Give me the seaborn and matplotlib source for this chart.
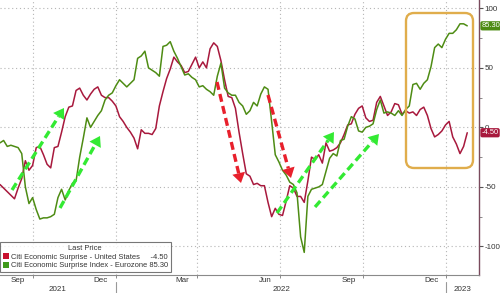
import numpy as np
import pandas as pd
import matplotlib
matplotlib.use("Agg")
import matplotlib.pyplot as plt
import matplotlib.dates as mdates
from matplotlib.ticker import MultipleLocator, NullFormatter
from matplotlib.lines import Line2D
from matplotlib.patches import Polygon, FancyBboxPatch, Patch
import seaborn as sns

# ---------------- data ----------------
start_date = "2021-08-26"
step = "4D"
us_name = "Citi Economic Surprise - United States"
ez_name = "Citi Economic Surprise Index - Eurozone"

us_values = [
    -48, -51, -54, -57, -60, -51, -43, -28, -36, -32,
    -17, -16, -23, -31, -34, -17, -16, -4, 9, 17,
    18, 31, 33, 27, 23, 28, 32, 34, 27, 25,
    25, 22, 18, 9, 5, 0, -4, -9, -18, -2,
    -5, -5, -6, -1, 18, 30, 41, 49, 59, 55,
    52, 46, 47, 53, 59, 50, 55, 50, 66, 71,
    68, 56, 40, 26, 25, 16, -4, -22, -39, -41,
    -48, -47, -49, -49, -63, -75, -68, -73, -74, -62,
    -49, -51, -58, -58, -63, -45, -25, -27, -23, -30,
    -13, -20, -19, -17, -13, -6, 2, 3, 11, 16,
    18, 8, 5, 6, 21, 26, 18, 10, 13, 20,
    19, 11, 14, 12, 13, 10, 15, 17, 10, -1,
    -8, -6, -3, 2, 5, -8, -14, -22, -16, -4.5,
]
ez_values = [
    -13, -11, -16, -15, -16, -17, -22, -50, -64, -59,
    -69, -77, -76, -76, -75, -73, -59, -52, -61, -53,
    -47, -45, -25, -9, 8, 0, 5, 10, 14, 23,
    27, 29, 35, 40, 37, 34, 37, 40, 58, 60,
    64, 50, 48, 46, 43, 68, 69, 72, 64, 58,
    51, 44, 45, 42, 40, 34, 35, 32, 30, 27,
    43, 54, 33, 29, 27, 27, 21, 18, 11, 14,
    21, 18, 28, 34, 32, 5, -23, -29, -36, -40,
    -46, -48, -55, -92, -105, -58, -52, -51, -50, -48,
    -37, -26, -22, -24, -11, -10, 1, 9, 7, -3,
    -4, 0, 1, 3, 15, 23, 12, 13, 12, 10,
    14, 10, 15, 18, 36, 37, 32, 37, 40, 51,
    67, 70, 67, 74, 79, 79, 82, 87, 87, 85.3,
]
y_ticks = [-100, -50, 0, 50, 100]
years = ["2021", "2022", "2023"]

# ---------------- style ----------------
W, H = 500, 293
RED = "#a8193d"
GREEN = "#4e8c14"
RED_SQ = "#c8102e"
GREEN_SQ = "#3f9a1a"
TXT = "#333333"
FS = 5.8
LFS = 5.4

sns.set_theme(style="white")
plt.rcParams["font.family"] = ["Liberation Sans", "DejaVu Sans"]

dates = pd.date_range(start_date, periods=len(us_values), freq=step)
df = pd.concat([
    pd.DataFrame({"date": dates, "value": us_values, "series": us_name}),
    pd.DataFrame({"date": dates, "value": ez_values, "series": ez_name}),
])

fig = plt.figure(figsize=(W / 100, H / 100), dpi=100)
ax = fig.add_axes([0, 18 / H, 479 / W, 275 / H])

sns.lineplot(data=df, x="date", y="value", hue="series",
             palette=[RED, GREEN], linewidth=1.1, ax=ax, legend=False)

x0 = pd.Timestamp("2021-08-26")
x1 = pd.Timestamp("2023-02-06")
ax.set_xlim(x0, x1)
ax.set_ylim(-124, 107)
ax.set_xlabel("")
ax.set_ylabel("")

# y axis on right
ax.yaxis.tick_right()
ax.set_yticks(y_ticks)
ax.set_yticklabels([str(t) for t in y_ticks])
ax.yaxis.set_minor_locator(MultipleLocator(25))
ax.tick_params(axis="y", which="major", length=3, width=0.8, color="#555555",
               labelsize=FS, labelcolor=TXT, pad=1.2, right=True, left=False)
ax.tick_params(axis="y", which="minor", length=2, width=0.6, color="#777777",
               right=True, left=False)

# x axis: quarter gridlines, month labels mid-month
ax.xaxis.set_major_locator(mdates.MonthLocator(bymonth=[1, 4, 7, 10]))
ax.xaxis.set_major_formatter(NullFormatter())
ax.xaxis.set_minor_locator(mdates.MonthLocator(bymonth=[3, 6, 9, 12], bymonthday=15))
ax.xaxis.set_minor_formatter(mdates.DateFormatter("%b"))
ax.tick_params(axis="x", which="major", length=2.5, width=0.6, color="#777777", bottom=True)
ax.tick_params(axis="x", which="minor", length=0, labelsize=FS, labelcolor=TXT, pad=1.8)

ax.grid(True, which="major", axis="both", linestyle=(0, (1, 2.5)), color="#b5b5b5", linewidth=0.8)

for s in ["top", "left"]:
    ax.spines[s].set_visible(False)
ax.spines["right"].set_color("#7a4a5c")
ax.spines["right"].set_linewidth(1.0)
ax.spines["bottom"].set_color("#8a8a8a")
ax.spines["bottom"].set_linewidth(0.8)

# year labels and separators
bounds = [x0, pd.Timestamp("2022-01-01"), pd.Timestamp("2023-01-01"), x1]
xt = ax.get_xaxis_transform()
for i, yr in enumerate(years):
    mid = bounds[i] + (bounds[i + 1] - bounds[i]) / 2
    ax.text(mid, -0.052, yr, transform=xt, ha="center", va="center",
            fontsize=FS, color=TXT, clip_on=False)
for b in bounds[1:3]:
    ax.add_line(Line2D([b, b], [-0.025, -0.07], transform=xt, color="#999999",
                       lw=0.8, clip_on=False))

# last value tags
for v, c in [(ez_values[-1], GREEN), (us_values[-1], RED)]:
    ax.annotate(f"{v:.2f}", xy=(1, v), xycoords=("axes fraction", "data"),
                xytext=(1.8, 0), textcoords="offset points", ha="left", va="center",
                color="white", fontsize=5.4,
                bbox=dict(boxstyle="round,pad=0.15,rounding_size=0.25", fc=c, ec="none"))

# ---------------- annotations (pixel positions) ----------------
def px(x, y):
    return (x / 100.0, (H - y) / 100.0)

def dashed_arrow(xa, ya, xb, yb, color):
    d = np.array([xb - xa, yb - ya], dtype=float)
    L = np.hypot(*d)
    u = d / L
    n = np.array([-u[1], u[0]])
    head_len, head_w = 10.0, 6.5
    base = np.array([xb, yb]) - u * head_len
    pa, pb = px(xa, ya), px(*base)
    fig.add_artist(Line2D([pa[0], pb[0]], [pa[1], pb[1]], transform=fig.dpi_scale_trans,
                          color=color, lw=2.4, dashes=(2.4, 1.3), solid_capstyle="butt",
                          dash_capstyle="butt"))
    tip = px(xb, yb)
    l = px(*(base + n * head_w))
    r = px(*(base - n * head_w))
    fig.add_artist(Polygon([tip, l, r], closed=True, transform=fig.dpi_scale_trans,
                           fc=color, ec="none"))

GA = "#33ea33"
RA = "#e8202c"
dashed_arrow(12, 190, 64, 108, GA)
dashed_arrow(60, 208, 100, 136, GA)
dashed_arrow(217, 82, 241, 183, RA)
dashed_arrow(268, 95, 291, 178, RA)
dashed_arrow(277, 213, 334, 132, GA)
dashed_arrow(315, 207, 379, 134, GA)

bx, by, bw, bh = 406, 13, 67, 155
fig.add_artist(FancyBboxPatch(px(bx, by + bh), bw / 100, bh / 100,
                              boxstyle="round,pad=0,rounding_size=0.08",
                              transform=fig.dpi_scale_trans, fc="none",
                              ec="#e0ad4c", lw=1.7))

# ---------------- legend ----------------
labels = [f"{us_name}     {us_values[-1]:.2f}", f"{ez_name} {ez_values[-1]:.2f}"]
leg = ax.legend(handles=[Patch(fc=RED_SQ, ec="none"), Patch(fc=GREEN_SQ, ec="none")],
                labels=labels,
                title="Last Price", loc="lower left", bbox_to_anchor=(0, 3 / 275),
                borderaxespad=0, frameon=True, fancybox=False, fontsize=LFS,
                title_fontsize=LFS, handlelength=0.8, handleheight=0.9,
                handletextpad=0.3, labelspacing=0.15, borderpad=0.35)
leg.get_frame().set_edgecolor("#555555")
leg.get_frame().set_linewidth(0.8)
leg.get_title().set_color(TXT)
for t in leg.get_texts():
    t.set_color(TXT)

fig.savefig("out.png", dpi=100)
